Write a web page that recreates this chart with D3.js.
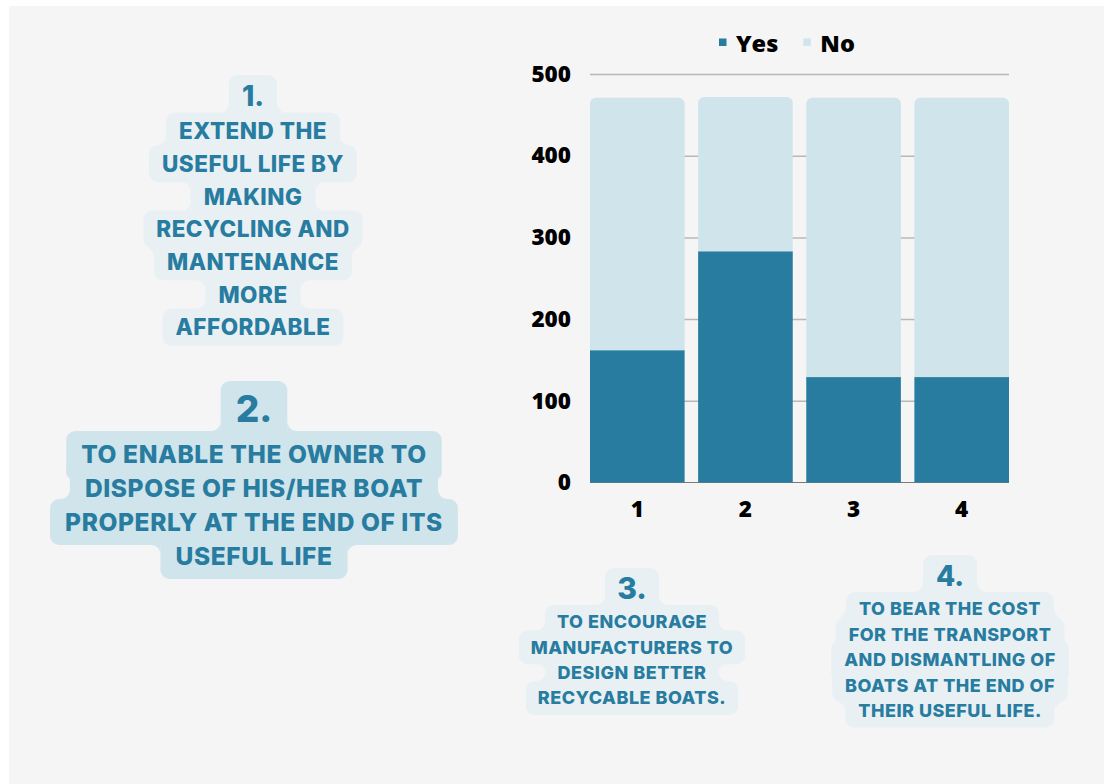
<!DOCTYPE html>
<html>
<head>
<meta charset="utf-8">
<script src="https://cdn.jsdelivr.net/npm/d3@7"></script>
<style>
	html, body { margin: 0; padding: 0; background: #fff; }
	svg { display: block; }
	.note text { font-family: Inter, "Noto Sans", sans-serif; font-weight: 800; fill: #277c9f; text-anchor: middle; }
	.chart text { font-family: "Open Sans", "Noto Sans", sans-serif; font-weight: 800; fill: #000; }
</style>
</head>
<body>
<div id="chart"></div>
<script>
'use strict';

// chart data
let categories = ['1', '2', '3', '4'];
let yesValues = [162, 283, 129, 129];
let noValues = [309, 189, 342, 342];
let yTicks = [0, 100, 200, 300, 400, 500];
let seriesNames = ['Yes', 'No'];
let seriesColors = ['#277c9f', '#cfe4eb'];

// side notes
let noteNumbers = ['1.', '2.', '3.', '4.'];
let noteLines = [
	['EXTEND THE', 'USEFUL LIFE BY', 'MAKING', 'RECYCLING AND', 'MANTENANCE', 'MORE', 'AFFORDABLE'],
	['TO ENABLE THE OWNER TO', 'DISPOSE OF HIS/HER BOAT', 'PROPERLY AT THE END OF ITS', 'USEFUL LIFE'],
	['TO ENCOURAGE', 'MANUFACTURERS TO', 'DESIGN BETTER', 'RECYCABLE BOATS.'],
	['TO BEAR THE COST', 'FOR THE TRANSPORT', 'AND DISMANTLING OF', 'BOATS AT THE END OF', 'THEIR USEFUL LIFE.'],
];

// layout of each note: centre x, number centre y, first line centre, line step, fonts, half heights
let noteLayout = [
	{cx: 253, ny: 96, y0: 131, step: 32.7, fs: 22.5, ls: 0.5, nfs: 28, h: 18.5, nh: 21, pad: 13, fill: '#e8f0f4'},
	{cx: 254, ny: 409, y0: 454, step: 34, fs: 24.5, ls: 0.6, nfs: 37, h: 23, nh: 28, pad: 15, fill: '#cfe4eb'},
	{cx: 632, ny: 588, y0: 622, step: 25.3, fs: 18, ls: 0.5, nfs: 30, h: 17, nh: 20, pad: 12, fill: '#e8f0f4'},
	{cx: 950, ny: 576, y0: 608.5, step: 25.6, fs: 18, ls: 0.5, nfs: 28, h: 16.5, nh: 21, pad: 13, fill: '#e8f0f4'},
];

let W = 1104, H = 784;
let margin = {left: 590, right: 95, top: 74, bottom: 301};

let svg = d3.select('#chart')
	.append('svg')
		.attr('width', W)
		.attr('height', H)
	;

svg.append('rect')
	.attr('x', 9).attr('y', 6)
	.attr('width', W - 9).attr('height', H - 6)
	.attr('fill', '#f5f5f5');

function rowPath(r, tl, tr, br, bl) {
	return ['M', r.x0 + tl, r.y0, 'H', r.x1 - tr,
		'A', tr, tr, 0, 0, 1, r.x1, r.y0 + tr,
		'V', r.y1 - br,
		'A', br, br, 0, 0, 1, r.x1 - br, r.y1,
		'H', r.x0 + bl,
		'A', bl, bl, 0, 0, 1, r.x0, r.y1 - bl,
		'V', r.y0 + tl,
		'A', tl, tl, 0, 0, 1, r.x0 + tl, r.y0, 'Z'].join(' ');
}

function drawNote(i) {
	let L = noteLayout[i];
	let g = svg.append('g').classed('note', true);
	let bg = g.append('g');
	let R = 9;

	let rows = [];
	let txts = [];
	let t = g.append('text')
		.attr('x', L.cx)
		.attr('y', L.ny)
		.attr('dy', '0.36em')
		.style('font-size', L.nfs + 'px')
		.text(noteNumbers[i]);
	txts.push({el: t, cy: L.ny, hh: L.nh});
	for (let j = 0; j < noteLines[i].length; ++j) {
		let cy = L.y0 + j * L.step;
		t = g.append('text')
			.attr('x', L.cx)
			.attr('y', cy)
			.attr('dy', '0.36em')
			.style('font-size', L.fs + 'px')
			.style('letter-spacing', L.ls + 'px')
			.text(noteLines[i][j]);
		txts.push({el: t, cy: cy, hh: L.h});
	}
	for (let k = 0; k < txts.length; ++k) {
		let w = txts[k].el.node().getComputedTextLength();
		rows.push({x0: L.cx - w / 2 - L.pad, x1: L.cx + w / 2 + L.pad, y0: txts[k].cy - txts[k].hh, y1: txts[k].cy + txts[k].hh});
	}

	for (let k = 0; k < rows.length; ++k) {
		let r = rows[k];
		let p = rows[k - 1], n = rows[k + 1];
		let tl = !p ? R : (r.x0 < p.x0 ? Math.min(R, p.x0 - r.x0) : 0);
		let tr = !p ? R : (r.x1 > p.x1 ? Math.min(R, r.x1 - p.x1) : 0);
		let bl = !n ? R : (r.x0 < n.x0 ? Math.min(R, n.x0 - r.x0) : 0);
		let br = !n ? R : (r.x1 > n.x1 ? Math.min(R, r.x1 - n.x1) : 0);
		bg.append('path').attr('d', rowPath(r, tl, tr, br, bl)).attr('fill', L.fill);
	}

	// concave fillets where a narrow row meets a wider one
	for (let k = 0; k + 1 < rows.length; ++k) {
		let a = rows[k], b = rows[k + 1];
		let d = [];
		if (b.x0 < a.x0) {
			let r = Math.min(R, a.x0 - b.x0);
			d.push(`M ${a.x0} ${b.y0 - r} A ${r} ${r} 0 0 1 ${a.x0 - r} ${b.y0} L ${a.x0} ${b.y0} Z`);
		}
		else if (b.x0 > a.x0) {
			let r = Math.min(R, b.x0 - a.x0);
			d.push(`M ${b.x0 - r} ${a.y1} A ${r} ${r} 0 0 1 ${b.x0} ${a.y1 + r} L ${b.x0} ${a.y1} Z`);
		}
		if (b.x1 > a.x1) {
			let r = Math.min(R, b.x1 - a.x1);
			d.push(`M ${a.x1} ${b.y0 - r} A ${r} ${r} 0 0 0 ${a.x1 + r} ${b.y0} L ${a.x1} ${b.y0} Z`);
		}
		else if (b.x1 < a.x1) {
			let r = Math.min(R, a.x1 - b.x1);
			d.push(`M ${b.x1 + r} ${a.y1} A ${r} ${r} 0 0 0 ${b.x1} ${a.y1 + r} L ${b.x1} ${a.y1} Z`);
		}
		for (let s of d) {
			bg.append('path').attr('d', s).attr('fill', L.fill);
		}
	}
}

for (let i = 0; i < noteNumbers.length; ++i) {
	drawNote(i);
}

// the chart
let chart = svg.append('g').classed('chart', true);
let x = d3.scaleBand()
	.domain(categories)
	.range([margin.left, W - margin.right])
	.paddingInner(0.125)
	.paddingOuter(0);
let y = d3.scaleLinear()
	.domain([0, 500])
	.range([H - margin.bottom - 0.5, margin.top]);

let grid = chart.append('g')
	.attr('transform', `translate(${margin.left},0)`)
	.call(d3.axisLeft(y).tickValues(yTicks.slice(1)).tickSize(-(W - margin.right - margin.left)).tickFormat(''));
grid.select('.domain').remove();
grid.selectAll('line').attr('stroke', '#b8b8b8').attr('stroke-width', 1.5);

chart.append('line')
	.attr('x1', margin.left).attr('x2', W - margin.right)
	.attr('y1', y(0)).attr('y2', y(0))
	.attr('stroke', '#7a7a7a').attr('stroke-width', 1);

let rows = categories.map((c, i) => ({cat: c, Yes: yesValues[i], No: noValues[i]}));
let stack = d3.stack().keys(seriesNames)(rows);

let bw = x.bandwidth();
let rr = 6;
chart.selectAll('rect.yes')
	.data(stack[0])
	.join('rect')
		.classed('yes', true)
		.attr('x', d => x(d.data.cat))
		.attr('y', d => y(d[1]))
		.attr('width', bw)
		.attr('height', d => y(d[0]) - y(d[1]))
		.attr('fill', seriesColors[0]);

chart.selectAll('path.no')
	.data(stack[1])
	.join('path')
		.classed('no', true)
		.attr('d', d => {
			let x0 = x(d.data.cat), x1 = x0 + bw, y0 = y(d[1]), y1 = y(d[0]);
			return `M ${x0} ${y1} V ${y0 + rr} A ${rr} ${rr} 0 0 1 ${x0 + rr} ${y0} H ${x1 - rr} A ${rr} ${rr} 0 0 1 ${x1} ${y0 + rr} V ${y1} Z`;
		})
		.attr('fill', seriesColors[1]);

let ya = chart.append('g')
	.attr('transform', `translate(${margin.left},0)`)
	.call(d3.axisLeft(y).tickValues(yTicks).tickSize(0).tickPadding(19));
ya.select('.domain').remove();
ya.selectAll('text').style('font-size', '22.5px');

let xa = chart.append('g')
	.attr('transform', `translate(0,${y(0)})`)
	.call(d3.axisBottom(x).tickSize(0).tickPadding(19));
xa.select('.domain').remove();
xa.selectAll('text').style('font-size', '22.5px');

// legend
let lg = chart.append('g').attr('transform', 'translate(719,0)');
let lx = 0;
for (let i = 0; i < seriesNames.length; ++i) {
	lg.append('rect')
		.attr('x', lx).attr('y', 38.5)
		.attr('width', 7.5).attr('height', 7.5)
		.attr('fill', seriesColors[i]);
	let t = lg.append('text')
		.attr('x', lx + 17)
		.attr('y', 51.5)
		.style('font-size', '23.5px')
		.text(seriesNames[i]);
	lx += 17 + t.node().getComputedTextLength() + 25;
}
</script>
</body>
</html>
